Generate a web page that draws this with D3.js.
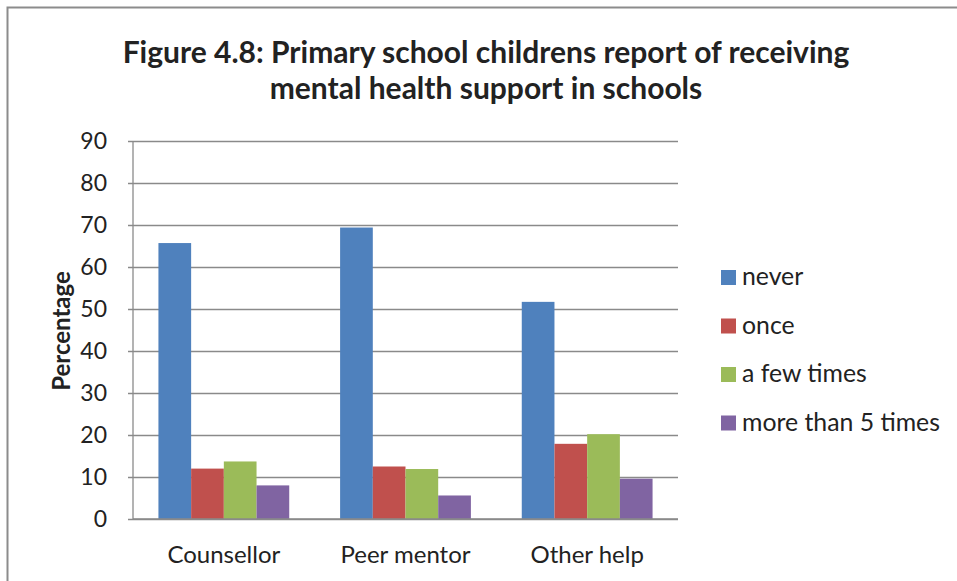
<!DOCTYPE html>
<html>
<head>
<meta charset="utf-8">
<script src="https://cdn.jsdelivr.net/npm/d3@7"></script>
<style>
  body { margin: 0; background: #fff; }
  text { font-family: Lato, "Open Sans", sans-serif; fill: #222; }
</style>
</head>
<body>
<svg id="chart" width="957" height="581"></svg>
<script>
// categories and series
const categories = ['Counsellor', 'Peer mentor', 'Other help'];
const seriesNames = ['never', 'once', 'a few times', 'more than 5 times'];
const never = [65.7, 69.4, 51.7];
const once = [12.0, 12.5, 17.9];
const fewTimes = [13.7, 11.9, 20.2];
const moreThan5 = [8.0, 5.6, 9.6];
const yTicks = [0, 10, 20, 30, 40, 50, 60, 70, 80, 90];
const colors = ['#4f81bd', '#c0504d', '#9bbb59', '#8064a2'];

const values = [never, once, fewTimes, moreThan5];
const rows = categories.map(function(c, i) {
    return {cat: c, vals: seriesNames.map(function(s, j) { return {name: s, v: values[j][i]}; })};
});

const svg = d3.select('#chart');

// outer chart frame
svg.append('rect')
    .attr('x', 7.5).attr('y', 7.5)
    .attr('width', 1000).attr('height', 1000)
    .attr('fill', 'none').attr('stroke', '#8c8c8c').attr('stroke-width', 2);

const plot = {left: 133, right: 678, top: 141, bottom: 519};

const x0 = d3.scaleBand()
    .domain(categories)
    .range([plot.left, plot.right])
    .paddingInner(0.28)
    .paddingOuter(0.14);

const x1 = d3.scaleBand()
    .domain(seriesNames)
    .range([0, x0.bandwidth()]);

const y = d3.scaleLinear()
    .domain([0, 90])
    .range([plot.bottom, plot.top]);

// gridlines + y axis
const yAxis = d3.axisLeft(y)
    .tickValues(yTicks)
    .tickSize(-(plot.right - plot.left))
    .tickPadding(10);

const gy = svg.append('g')
    .attr('transform', 'translate(' + plot.left + ',0)')
    .call(yAxis);
gy.select('.domain').remove();
gy.selectAll('.tick line')
    .attr('x1', -5)
    .attr('stroke', '#8a8a8a')
    .attr('stroke-width', 1.3);
gy.selectAll('.tick text')
    .attr('font-size', 23)
    .attr('font-family', 'Lato, sans-serif')
    .attr('fill', '#222')
    .attr('x', -26);

// axis lines
svg.append('line')
    .attr('x1', plot.left).attr('x2', plot.left)
    .attr('y1', plot.top).attr('y2', plot.bottom)
    .attr('stroke', '#8a8a8a').attr('stroke-width', 1.3);

// bars
const groups = svg.append('g').selectAll('g')
    .data(rows)
    .join('g')
    .attr('transform', function(d) { return 'translate(' + x0(d.cat) + ',0)'; });

groups.selectAll('rect')
    .data(function(d) { return d.vals; })
    .join('rect')
    .attr('x', function(d) { return x1(d.name); })
    .attr('width', x1.bandwidth())
    .attr('y', function(d) { return y(d.v); })
    .attr('height', function(d) { return y(0) - y(d.v); })
    .attr('fill', function(d, i) { return colors[i]; });

svg.append('line')
    .attr('x1', plot.left).attr('x2', plot.right)
    .attr('y1', plot.bottom).attr('y2', plot.bottom)
    .attr('stroke', '#8a8a8a').attr('stroke-width', 1.3);

// x axis labels
const xAxis = d3.axisBottom(x0).tickSize(0).tickPadding(27);
const gx = svg.append('g')
    .attr('transform', 'translate(0,' + plot.bottom + ')')
    .call(xAxis);
gx.select('.domain').remove();
gx.selectAll('.tick text')
    .attr('font-size', 24)
    .attr('font-family', 'Lato, sans-serif')
    .attr('fill', '#222');

// y axis title
svg.append('text')
    .attr('transform', 'translate(70,331) rotate(-90)')
    .attr('text-anchor', 'middle')
    .attr('font-size', 24)
    .attr('font-weight', 'bold')
    .text('Percentage');

// title
const title = svg.append('text')
    .attr('text-anchor', 'middle')
    .attr('font-size', 30)
    .attr('font-weight', 'bold');
title.append('tspan').attr('x', 486).attr('y', 63)
    .text('Figure 4.8: Primary school childrens report of receiving');
title.append('tspan').attr('x', 486).attr('y', 99)
    .text('mental health support in schools');

// legend
const legend = svg.append('g').selectAll('g')
    .data(seriesNames)
    .join('g')
    .attr('transform', function(d, i) { return 'translate(721,' + (270 + i * 48.5) + ')'; });
legend.append('rect')
    .attr('width', 15).attr('height', 15)
    .attr('fill', function(d, i) { return colors[i]; });
legend.append('text')
    .attr('x', 21).attr('y', 15)
    .attr('font-size', 24.8)
    .text(function(d) { return d; });
</script>
</body>
</html>
